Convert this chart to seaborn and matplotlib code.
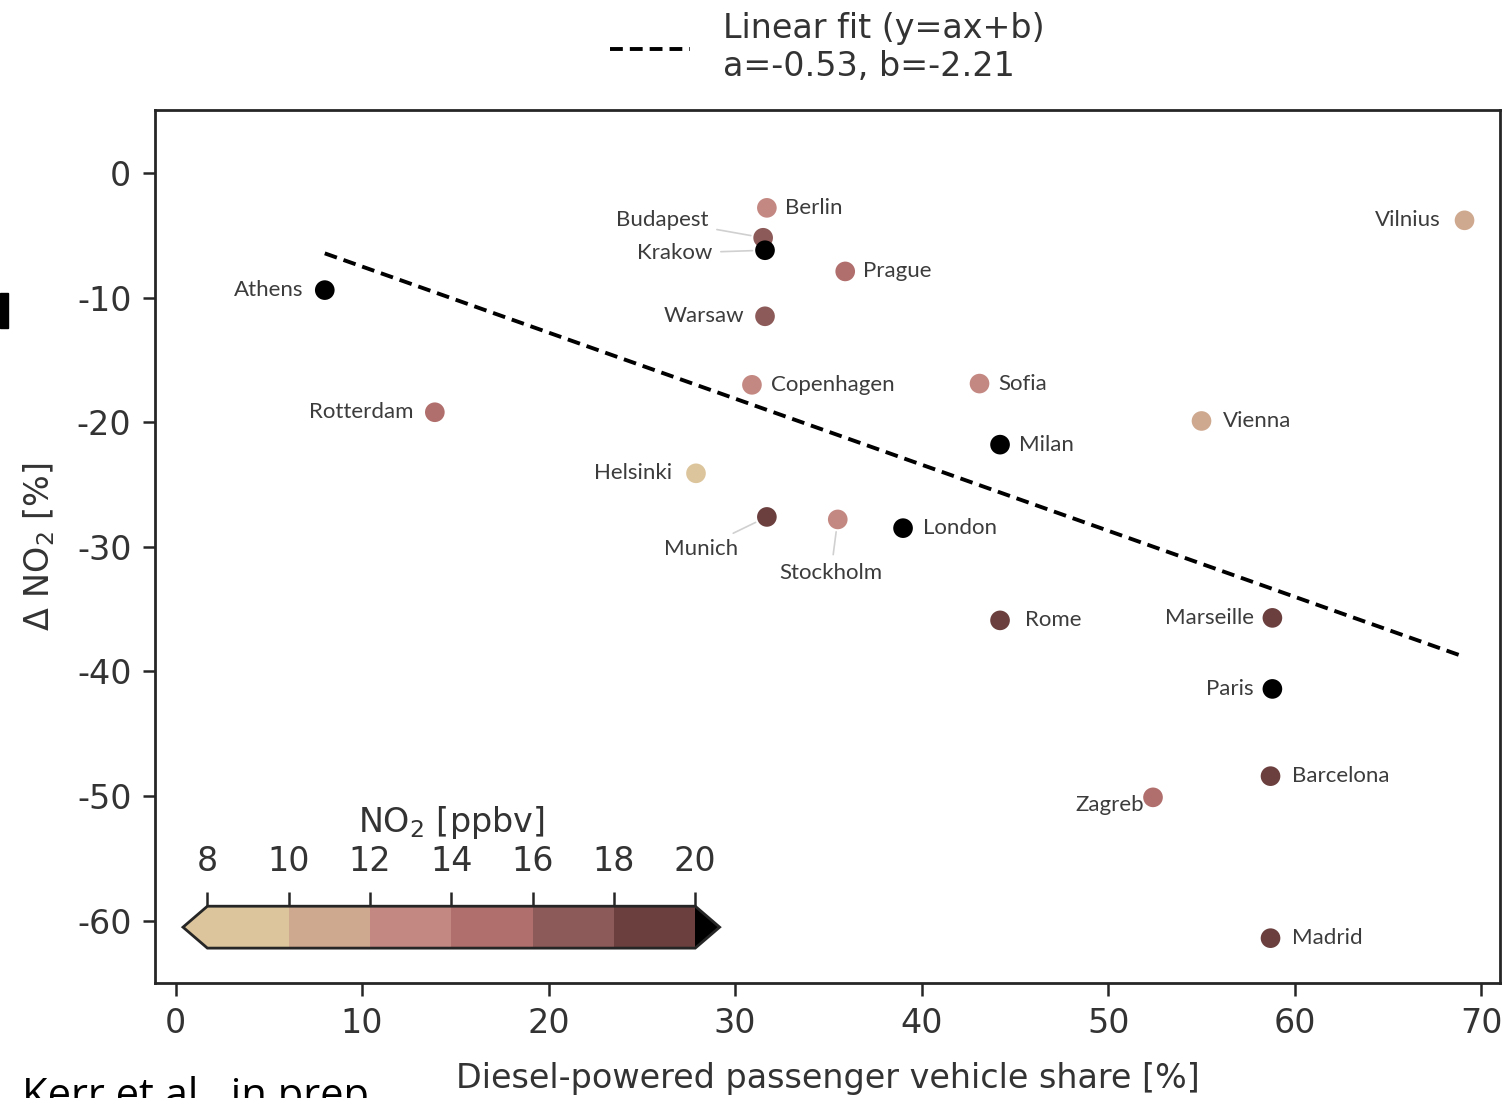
import numpy as np
import pandas as pd
import matplotlib
matplotlib.use("Agg")
import matplotlib.pyplot as plt
import matplotlib.colors as mcolors
from matplotlib.patches import Rectangle
import seaborn as sns

# data
cities = ["Berlin", "Budapest", "Krakow", "Prague", "Athens", "Warsaw", "Copenhagen",
          "Sofia", "Rotterdam", "Vienna", "Milan", "Helsinki", "Munich", "Stockholm",
          "London", "Rome", "Marseille", "Paris", "Barcelona", "Zagreb", "Madrid", "Vilnius"]
diesel_share = [31.7, 31.5, 31.6, 35.9, 8.0, 31.6, 30.9,
                43.1, 13.9, 55.0, 44.2, 27.9, 31.7, 35.5,
                39.0, 44.2, 58.8, 58.8, 58.7, 52.4, 58.7, 69.1]
delta_no2 = [-2.8, -5.2, -6.2, -7.9, -9.4, -11.5, -17.0,
             -16.9, -19.2, -19.9, -21.8, -24.1, -27.6, -27.8,
             -28.5, -35.9, -35.7, -41.4, -48.4, -50.1, -61.4, -3.8]
no2_ppbv = [13, 17, 21, 15, 22, 17, 13,
            13, 15, 11, 22, 9, 19, 13,
            21, 19, 19, 22, 19, 15, 19, 11]

fit_a = -0.53
fit_b = -2.21

cbar_bounds = [8, 10, 12, 14, 16, 18, 20]
cbar_colors = ["#dcc59c", "#cfa98f", "#c48882", "#b06e6c", "#8c5a58", "#6a3f3e"]

df = pd.DataFrame({"city": cities, "diesel": diesel_share, "dno2": delta_no2, "no2": no2_ppbv})

cmap = mcolors.ListedColormap(cbar_colors)
cmap.set_under(cbar_colors[0])
cmap.set_over("#000000")
norm = mcolors.BoundaryNorm(cbar_bounds, cmap.N)
pal = {c: cmap(norm(v)) for c, v in zip(df["city"], df["no2"])}

sns.set_style("ticks")
plt.rcParams["font.family"] = ["DejaVu Sans"]
plt.rcParams["axes.unicode_minus"] = False

fig = plt.figure(figsize=(15.11, 10.98), dpi=100)
ax = fig.add_axes([0.1026, 0.1047, 0.8901, 0.7951])

# fit line over the data range
xs = np.array([df["diesel"].min(), df["diesel"].max()])
ax.plot(xs, fit_a * xs + fit_b, color="black", lw=2.8, dashes=(3.3, 1.8),
        label="Linear fit (y=ax+b)\na=%.2f, b=%.2f" % (fit_a, fit_b))

sns.scatterplot(data=df, x="diesel", y="dno2", hue="city", palette=pal, s=200,
                edgecolor="none", legend=False, ax=ax, zorder=3)

# label offsets in pixels (dx, dy, ha, leader line)
offs = {
    "Berlin": (18, 0, "left", False), "Budapest": (-55, 18, "right", True),
    "Krakow": (-53, -3, "right", True), "Prague": (18, 0, "left", False),
    "Athens": (-21, 0, "right", False), "Warsaw": (-21, 0, "right", False),
    "Copenhagen": (19, 0, "left", False), "Sofia": (19, 0, "left", False),
    "Rotterdam": (-21, 0, "right", False), "Vienna": (21, 0, "left", False),
    "Milan": (19, 0, "left", False), "Helsinki": (-24, 0, "right", False),
    "Munich": (-29, -32, "right", True), "Stockholm": (-7, -54, "center", True),
    "London": (20, 0, "left", False), "Rome": (25, 0, "left", False),
    "Marseille": (-18, 0, "right", False), "Paris": (-19, 0, "right", False),
    "Barcelona": (21, 0, "left", False), "Zagreb": (-9, -8, "right", False),
    "Madrid": (21, 0, "left", False), "Vilnius": (-24, 0, "right", False),
}
for _, r in df.iterrows():
    dx, dy, ha, lead = offs[r["city"]]
    ap = dict(arrowstyle="-", color="#d0d0d0", lw=1.2, shrinkA=4, shrinkB=9) if lead else None
    ax.annotate(r["city"], (r["diesel"], r["dno2"]), xytext=(dx, dy),
                textcoords="offset pixels", ha=ha, va="center", fontsize=16,
                family="Lato", color="#3c3c3c", arrowprops=ap)

ax.set_xlim(-1.1, 71.0)
ax.set_ylim(-65, 5.05)
ax.set_xticks(range(0, 71, 10))
ax.set_yticks(range(-60, 1, 10))
ax.tick_params(labelsize=24, length=9, width=1.8, direction="out", pad=8, labelcolor="#333333")
for sp in ax.spines.values():
    sp.set_linewidth(2)
    sp.set_visible(True)
ax.set_xlabel("Diesel-powered passenger vehicle share [%]", fontsize=24, labelpad=16,
              color="#333333")
ax.set_ylabel(r"$\Delta$ NO$_2$ [%]", fontsize=24, labelpad=14, color="#333333")

ax.legend(loc="lower center", bbox_to_anchor=(0.5, 1.0), frameon=False, fontsize=24,
          handlelength=2.4, handletextpad=1.0, borderaxespad=0.4, labelspacing=0.2,
          labelcolor="#333333")

# inset colorbar (extensions are drawn inside the inset box)
cax = ax.inset_axes([0.0208, 0.040, 0.399, 0.048])
sm = plt.cm.ScalarMappable(norm=norm, cmap=cmap)
cb = fig.colorbar(sm, cax=cax, orientation="horizontal", extend="both", extendfrac=0.05)
cb.set_ticks(cbar_bounds)
cax.xaxis.set_ticks_position("top")
cax.xaxis.set_label_position("top")
cax.tick_params(labelsize=24, length=10, width=1.8, pad=10, labelcolor="#333333")
cb.outline.set_linewidth(2)
cb.set_label("NO$_2$ [ppbv]", fontsize=24, labelpad=10, color="#333333")

# cut-off source note and the stray mark on the left edge
fig.text(0.0146, 1 - 1076 / 1098, "Kerr et al., in prep.", va="top", ha="left",
         fontsize=30, family="Open Sans", color="black")
fig.patches.append(Rectangle((0, 1 - 328 / 1098), 8 / 1511, 35 / 1098,
                             transform=fig.transFigure, color="black"))

fig.savefig("out.png", dpi=100)
